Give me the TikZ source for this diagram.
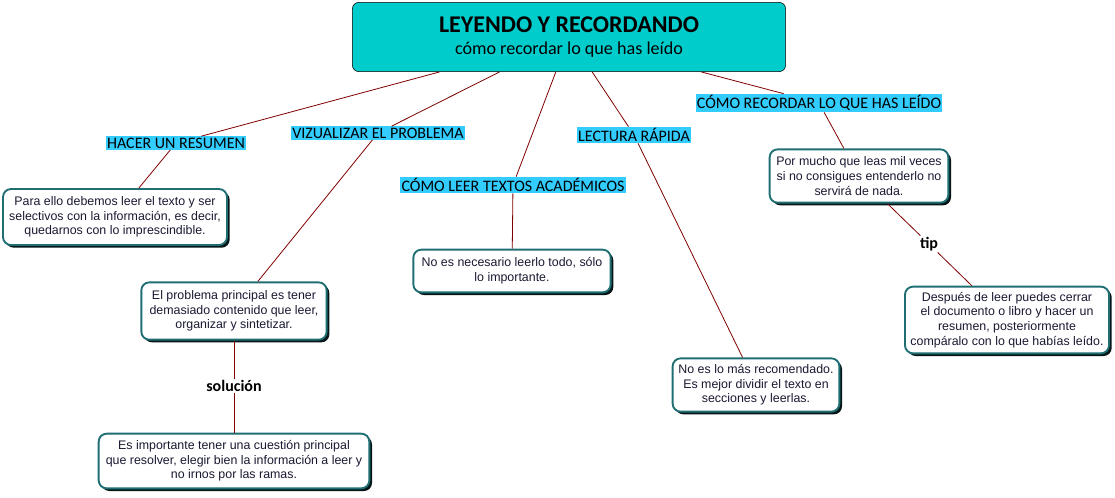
\documentclass[tikz,border=0pt]{standalone}
\usepackage{fontspec}
\setmainfont{Liberation Sans}
\newfontfamily\calfont{Carlito}
\usetikzlibrary{shadows}
\definecolor{topfill}{RGB}{0,204,204}
\definecolor{lblfill}{RGB}{51,204,255}
\definecolor{boxline}{RGB}{30,110,115}
\definecolor{linkcol}{RGB}{128,0,0}
\definecolor{boxtext}{RGB}{25,25,50}
\begin{document}
\begin{tikzpicture}[x=0.75pt,y=-0.75pt,
	title/.style={draw=black, fill=topfill, rounded corners=5pt, align=center,
		minimum width=325pt, minimum height=52pt, font=\calfont},
	lbl/.style={fill=lblfill, inner sep=1pt, font=\calfont\fontsize{12}{13}\selectfont},
	phrase/.style={inner sep=1pt, font=\calfont\bfseries\fontsize{12}{13}\selectfont},
	info/.style={draw=boxline, line width=1.4pt, fill=white, rounded corners=6pt,
		align=center, text=boxtext, font=\fontsize{9.3}{11}\selectfont,
		drop shadow={shadow xshift=2pt, shadow yshift=-2pt, fill=black!80!boxline, opacity=1}},
	link/.style={draw=linkcol, line width=0.6pt}]
	\useasboundingbox (0,0) rectangle (1115,497);

	% main topic
	\node[title] (top) at (569,37) {{\fontsize{18}{20}\selectfont\bfseries LEYENDO Y RECORDANDO}\\[5pt]
		{\fontsize{13.6}{15}\selectfont cómo recordar lo que has leído}};

	% branch labels
	\node[lbl] (resumenLbl) at (176,143) {HACER UN RESUMEN};
	\node[lbl] (problemaLbl) at (378,133) {VIZUALIZAR EL PROBLEMA};
	\node[lbl] (leerLbl) at (513,185) {CÓMO LEER TEXTOS ACADÉMICOS};
	\node[lbl] (rapidaLbl) at (634,135) {LECTURA RÁPIDA};
	\node[lbl] (recordarLbl) at (819,103) {CÓMO RECORDAR LO QUE HAS LEÍDO};

	% concept boxes
	\node[info, minimum width=168pt, minimum height=42pt] (resumen) at (115,217)
		{Para ello debemos leer el texto y ser\\selectivos con la información, es decir,\\quedarnos con lo imprescindible.};
	\node[info, minimum width=139pt, minimum height=43pt] (problema) at (234,311)
		{El problema principal es tener\\demasiado contenido que leer,\\organizar y sintetizar.};
	\node[info, minimum width=203pt, minimum height=41pt] (solucion) at (234,461)
		{Es importante tener una cuestión principal\\que resolver, elegir bien la información a leer y\\no irnos por las ramas.};
	\node[info, minimum width=148pt, minimum height=32pt] (leer) at (512,271)
		{No es necesario leerlo todo, sólo\\lo importante.};
	\node[info, minimum width=125pt, minimum height=40pt] (rapida) at (756,385)
		{No es lo más recomendado.\\Es mejor dividir el texto en\\secciones y leerlas.};
	\node[info, minimum width=134pt, minimum height=40pt] (recordar) at (859,176)
		{Por mucho que leas mil veces\\si no consigues entenderlo no\\servirá de nada.};
	\node[info, minimum width=153pt, minimum height=50pt] (tipbox) at (1007,320)
		{Después de leer puedes cerrar\\el documento o libro y hacer un\\resumen, posteriormente\\compáralo con lo que habías leído.};

	% linking phrases
	\node[phrase] (solLbl) at (234,386) {solución};
	\node[phrase] (tipLbl) at (929,244) {tip};

	% connectors
	\foreach \b in {resumenLbl,problemaLbl,leerLbl,rapidaLbl,recordarLbl}
		\draw[link] (top) -- (\b);
	\draw[link] (resumenLbl) -- (resumen);
	\draw[link] (problemaLbl) -- (problema);
	\draw[link] (leerLbl) -- (leer);
	\draw[link] (rapidaLbl) -- (rapida);
	\draw[link] (recordarLbl) -- (recordar);
	\draw[link] (problema) -- (solLbl) -- (solucion);
	\draw[link] (recordar) -- (tipLbl) -- (tipbox);
\end{tikzpicture}
\end{document}
